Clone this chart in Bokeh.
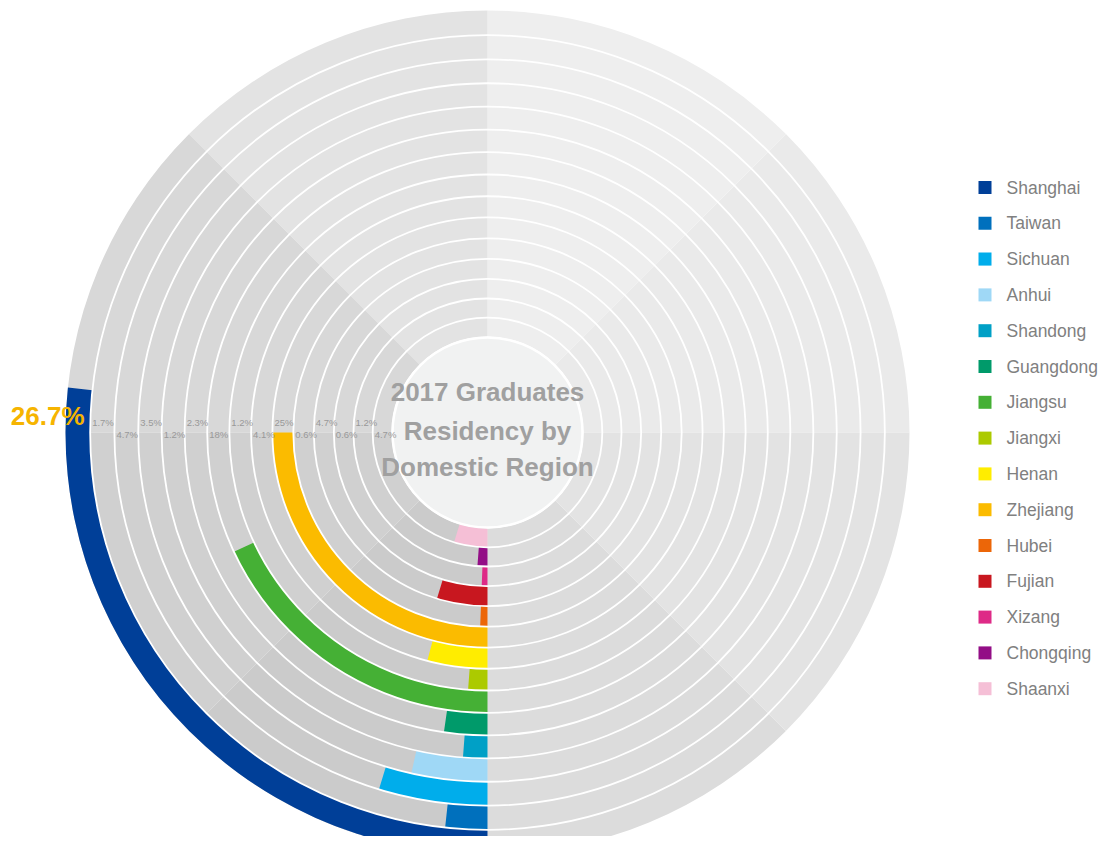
import math
from bokeh.plotting import figure
from bokeh.models import Range1d
from bokeh.core.properties import value
from bokeh.embed import file_html
from bokeh.resources import INLINE

# ---- data (outermost ring first) ----
regions = ["Shanghai", "Taiwan", "Sichuan", "Anhui", "Shandong", "Guangdong", "Jiangsu",
           "Jiangxi", "Henan", "Zhejiang", "Hubei", "Fujian", "Xizang", "Chongqing", "Shaanxi"]
shares = [26.7, 1.7, 4.7, 3.5, 1.2, 2.3, 18, 1.2, 4.1, 25, 0.6, 4.7, 0.6, 1.2, 4.7]
share_labels = ["26.7%", "1.7%", "4.7%", "3.5%", "1.2%", "2.3%", "18%", "1.2%", "4.1%",
                "25%", "0.6%", "4.7%", "0.6%", "1.2%", "4.7%"]
colors = ["#003f98", "#0070bd", "#00adeb", "#9fd8f6", "#00a0c6", "#009a6a", "#45b035",
          "#acca00", "#ffed00", "#fbbb00", "#ec6608", "#c8171f", "#de2a87", "#930e86", "#f5bfd6"]
title_lines = ["2017 Graduates", "Residency by", "Domestic Region"]
sector_shades = ["#eaeaea", "#eeeeee", "#e3e3e3", "#d8d8d8", "#d0d0d0", "#cbcbcb", "#dcdcdc", "#e3e3e3"]

W, H = 1103, 836
p = figure(width=W, height=H, output_backend="svg", toolbar_location=None,
           x_range=Range1d(0, W), y_range=Range1d(0, H), min_border=0)
p.axis.visible = False
p.grid.visible = False
p.outline_line_color = None
p.background_fill_color = "white"

cx, cy = 487, H - 432
R0, R_OUT = 96, 422
n = len(regions)
a = 18.8
b = (R_OUT - R0 - n * a) / (n * (n - 1) / 2)
bounds = [R0]
for i in range(n):
    bounds.append(bounds[-1] + a + b * i)
r_in = [bounds[n - 1 - k] for k in range(n)]
r_out = [bounds[n - k] for k in range(n)]

# background sectors
starts = [math.radians(45 * j) for j in range(8)]
ends = [math.radians(45 * (j + 1)) for j in range(8)]
p.annular_wedge(x=[cx] * 8, y=[cy] * 8, inner_radius=R0, outer_radius=R_OUT,
                start_angle=starts, end_angle=ends, fill_color=sector_shades, line_color=None)

# coloured arcs, starting at the bottom and running clockwise
bottom = -math.pi / 2
p.annular_wedge(x=[cx] * n, y=[cy] * n, inner_radius=r_in, outer_radius=r_out,
                start_angle=[bottom - math.radians(v * 3.6) for v in shares],
                end_angle=[bottom] * n, fill_color=colors, line_color=None)

# white separators between rings
p.circle(x=[cx] * (n - 1), y=[cy] * (n - 1), radius=bounds[1:n],
         fill_color=None, line_color="white", line_width=1.8)
# centre hole
p.circle(x=[cx], y=[cy], radius=R0 - 1, fill_color="#f1f2f2", line_color="white", line_width=2.5)

# small percentage labels along the left horizontal
lx = [cx - r_out[k] + 2 for k in range(1, n)]
ly = [cy + 10 if (k % 2 == 1) else cy - 2 for k in range(1, n)]
p.text(x=lx, y=ly, text=share_labels[1:], text_font=value("Liberation Sans"),
       text_font_size="9.5px", text_color="#999999", text_align="left", text_baseline="middle")
# highlighted outer label
p.text(x=[84], y=[cy + 17], text=[share_labels[0]], text_font=value("Liberation Sans"),
       text_font_size="26px", text_font_style="bold", text_color="#f6b400",
       text_align="right", text_baseline="middle")

# centre title
p.text(x=[cx] * 3, y=[cy + 41, cy + 2, cy - 34], text=title_lines,
       text_font=value("Liberation Sans"), text_font_size="26px", text_font_style="bold",
       text_color="#a0a0a0", text_align="center", text_baseline="middle")

# legend
leg_y = [H - 187 - 35.8 * i for i in range(n)]
p.rect(x=[984.5] * n, y=leg_y, width=13, height=13, fill_color=colors, line_color=None)
p.text(x=[1006] * n, y=leg_y, text=regions, text_font=value("Liberation Sans"),
       text_font_size="17.5px", text_color="#808080", text_align="left", text_baseline="middle")

open("out.html", "w").write(file_html(p, INLINE))
